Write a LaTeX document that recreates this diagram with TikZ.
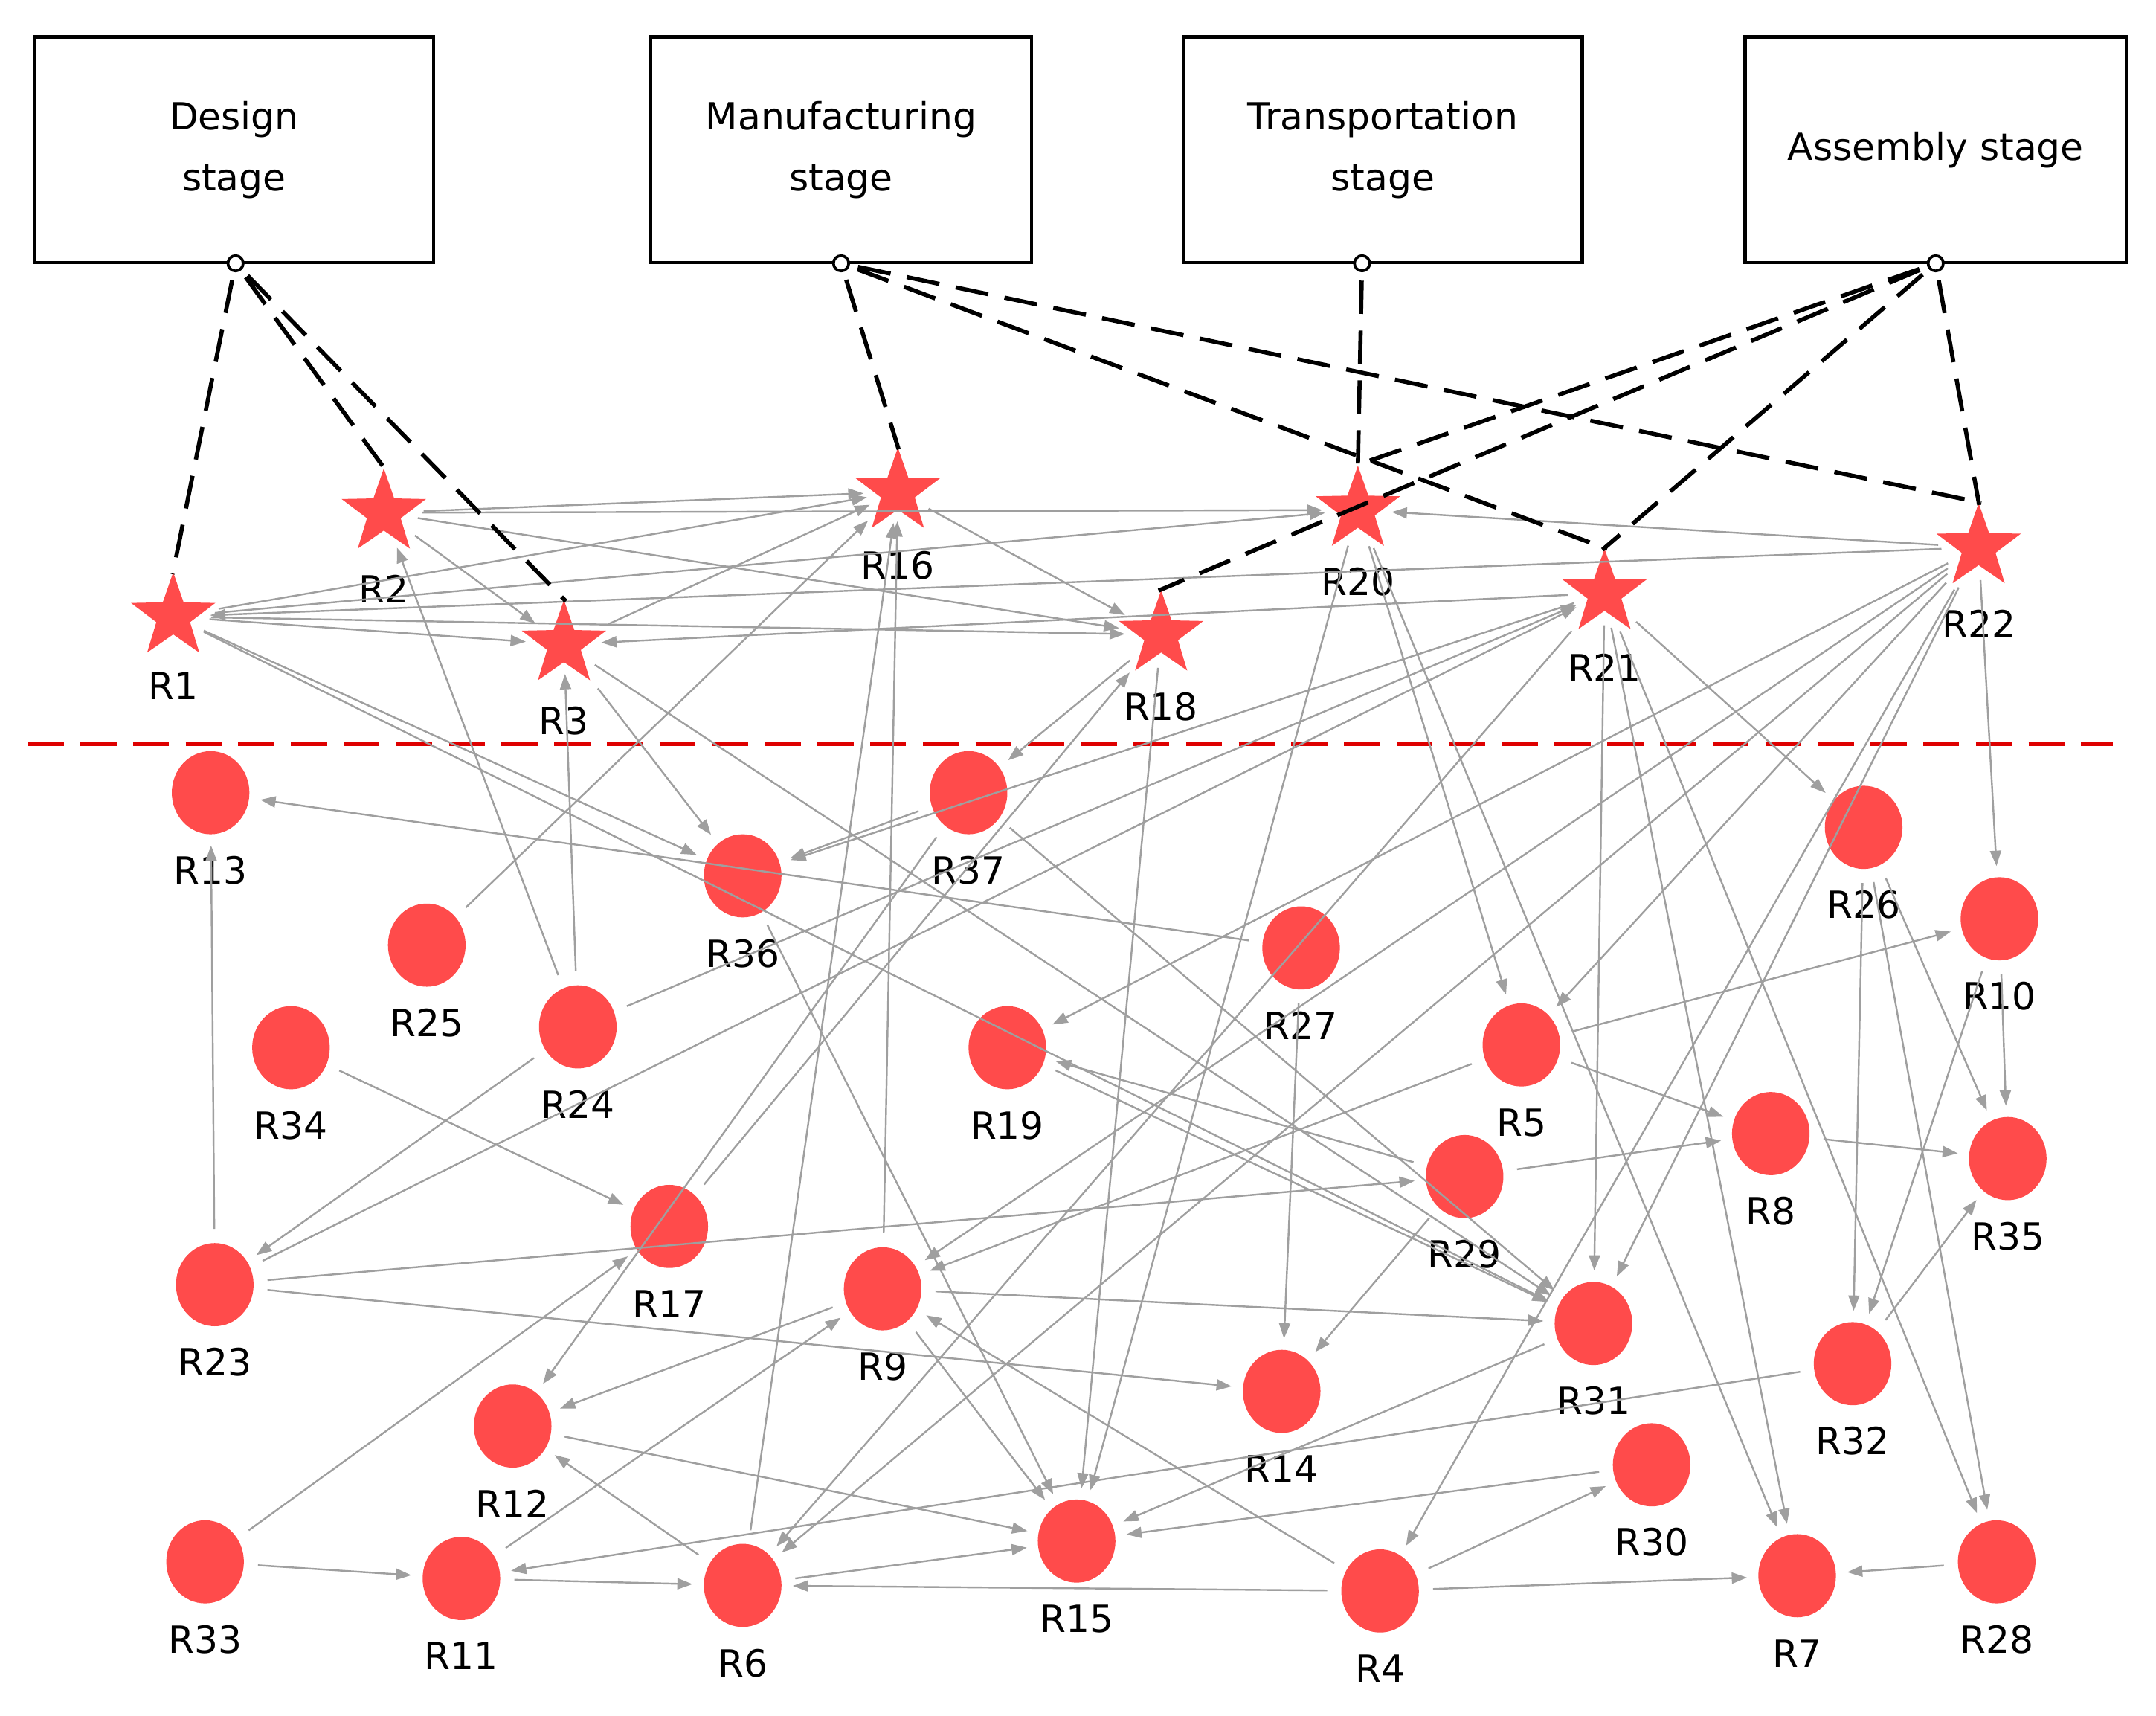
\documentclass[tikz,border=0pt]{standalone}
\usepackage{fontspec}
\setmainfont{DejaVu Sans}
\usetikzlibrary{shapes.geometric,arrows.meta}
\definecolor{nred}{RGB}{255,75,75}
\definecolor{dred}{RGB}{222,0,0}
\begin{document}
\begin{tikzpicture}[x=1pt,y=-1pt,
  circ/.style={ellipse,fill=nred,draw=none,minimum width=56pt,minimum height=60pt,inner sep=0pt},
  st/.style={star,star points=5,star point ratio=2.5,fill=nred,draw=none,minimum size=64pt,inner sep=0pt},
  lbl/.style={font=\fontsize{27}{32}\selectfont,inner sep=0pt},
  box/.style={draw,line width=2.5pt,minimum width=288pt,minimum height=163pt,align=center,font=\fontsize{27}{44}\selectfont},
  port/.style={circle,draw,line width=2pt,fill=white,minimum size=11pt,inner sep=0pt},
  dl/.style={line width=3pt,dash pattern=on 24pt off 12pt},
  e/.style={draw=gray!75,line width=1.3pt,-{Triangle[length=11pt,width=8pt]},shorten <=10pt,shorten >=8pt}]
\useasboundingbox (0,0) rectangle (1556,1238);
% boxes
\node[box] (bD) at (169,108) {Design\\stage};
\node[box,minimum width=275pt] (bM) at (607,108) {Manufacturing\\stage};
\node[box] (bT) at (998,108) {Transportation\\stage};
\node[box,minimum width=275pt] (bA) at (1397,108) {Assembly stage};
% stars
\foreach \n/\x/\y/\ly in {1/125/445/495, 2/277/370/425, 3/407/465/520, 16/648/355/408, 20/980/368/420, 18/838/458/510, 21/1158/428/482, 22/1428/395/450}
  {\node[st] (R\n) at (\x,\y) {}; \node[lbl] (L\n) at (\x,\ly) {R\n};}
% circles
\foreach \n/\x/\y in {13/152/572, 37/699/572, 36/536/632, 26/1345/597, 10/1443/663, 25/308/682, 27/939/684, 24/417/741, 34/210/756, 19/727/756, 5/1098/754, 8/1278/818, 35/1449/836, 29/1057/849, 17/483/885, 23/155/927, 9/637/930, 31/1150/955, 32/1337/984, 14/925/1004, 12/370/1029, 30/1192/1057, 15/777/1112, 33/148/1127, 11/333/1139, 6/536/1144, 4/996/1148, 7/1297/1137, 28/1441/1127}
  {\node[circ] (R\n) at (\x,\y) {}; \node[lbl] (L\n) at (\x,\y+56) {R\n};}
% red divider
\coordinate (dA) at (20,537); \coordinate (dB) at (1525,537);
\draw[dred,line width=3pt,dash pattern=on 26pt off 12pt] (dA) -- (dB);
% grey edges
\foreach \a/\b in {2/16,2/20,1/16,1/20,2/18,2/3,1/3,1/18,22/1,21/3,3/16,22/20,16/18,24/2,24/3,25/16,1/36,1/31,3/36,3/31,37/36,27/13,23/13,18/37,21/36,24/21,23/21,24/23,34/17,23/29,23/14,33/17,33/11,11/6,6/15,4/6,4/7,28/7,4/30,30/15,32/11,12/15,6/12,11/9,9/12,37/12,6/16,9/16,9/15,36/15,18/15,20/15,20/7,20/5,21/31,21/7,21/28,21/26,22/10,22/4,22/31,22/5,22/19,22/9,5/9,22/6,21/6,27/14,29/19,29/14,5/10,5/8,29/8,8/35,26/32,26/35,10/35,10/32,32/35,26/28,4/9,37/31,31/15,9/31,19/31,17/18}
  {\draw[e] (R\a) -- (R\b);}
% ports and dashed links
\node[port] (pD) at (170,190) {};
\node[port] (pM) at (607,190) {};
\node[port] (pT) at (983,190) {};
\node[port] (pA) at (1397,190) {};
\foreach \p/\r in {D/1,D/2,D/3,M/16,M/21,M/22,T/20,A/18,A/20,A/21,A/22}
  {\draw[dl,shorten <=6pt,shorten >=-2pt] (p\p) -- (R\r.north);}
\end{tikzpicture}
\end{document}
